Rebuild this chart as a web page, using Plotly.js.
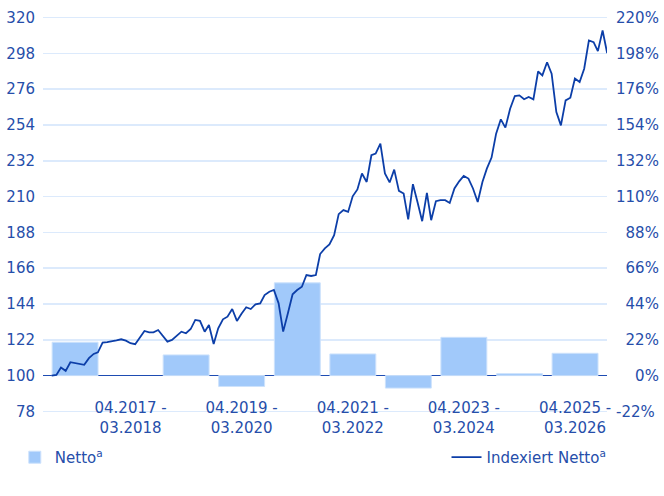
<!DOCTYPE html>
<html>
<head>
<meta charset="utf-8">
<script src="https://cdn.plot.ly/plotly-3.0.1.min.js"></script>
<style>
html,body{margin:0;padding:0;background:#fff}
#chart{width:664px;height:496px}
</style>
</head>
<body>
<div id="chart"></div>
<script>
// Fiscal years (April - March)
const fiscalYears = ['04.2016 - 03.2017','04.2017 - 03.2018','04.2018 - 03.2019','04.2019 - 03.2020','04.2020 - 03.2021',
                     '04.2021 - 03.2022','04.2022 - 03.2023','04.2023 - 03.2024','04.2024 - 03.2025','04.2025 - 03.2026'];
const fiscalStartYear = [2016,2017,2018,2019,2020,2021,2022,2023,2024,2025];
// Netto yearly performance in %
const nettoPct = [20.5, 0, 12.7, -6.7, 57.0, 13.3, -7.7, 23.5, 1.2, 13.7];
// Labelled fiscal years on the x axis
const labelledYears = [2017, 2019, 2021, 2023, 2025];

// Indexiert Netto, monthly values (month-end) starting April 2016
const indexStart = {year: 2016, month: 4};
const indexValues = [
  100.0, 100.4, 104.9, 102.9, 108.2, 107.7, 107.2, 106.6, 110.7, 113.3,
  114.3, 120.2, 120.5, 120.9, 121.6, 122.3, 121.5, 119.9, 119.3, 123.3,
  127.4, 126.6, 126.6, 128.0, 124.5, 120.9, 121.9, 124.5, 127.0, 126.0,
  128.6, 134.2, 133.6, 127.0, 131.1, 119.4, 129.1, 134.6, 136.2, 140.9,
  133.6, 138.0, 142.0, 140.9, 143.8, 144.4, 149.5, 151.5, 152.6, 144.4,
  127.0, 138.3, 150.0, 152.6, 154.6, 161.8, 161.2, 161.8, 174.7, 178.2,
  180.6, 186.3, 199.2, 201.7, 200.6, 210.2, 214.4, 224.2, 219.0, 235.4,
  236.4, 242.6, 224.2, 218.7, 226.6, 213.5, 211.9, 196.0, 217.6, 206.7,
  194.9, 212.3, 195.5, 207.2, 207.8, 207.8, 206.1, 215.0, 219.4, 222.7,
  221.1, 215.0, 206.7, 219.0, 227.2, 234.0, 248.7, 257.5, 252.4, 264.0,
  271.8, 272.2, 269.8, 271.2, 269.8, 286.9, 284.5, 292.6, 285.5, 262.0,
  253.8, 269.1, 270.8, 282.5, 280.4, 288.6, 306.0, 304.9, 299.4, 312.1,
  298.2
];

// Axis ticks
const leftTicks  = [78,100,122,144,166,188,210,232,254,276,298,320];
const rightTicks = [-22,0,22,44,66,88,110,132,154,176,198,220];

const iso = d => d.toISOString().slice(0,10);
const monthEnd = i => iso(new Date(Date.UTC(indexStart.year, indexStart.month - 1 + i + 1, 0)));
const fyMid = y => iso(new Date(Date.UTC(y, 9, 1)));
const pad = s => '\u2007'.repeat(Math.max(0, 4 - s.length)) + s;
const edge = 1.0; // keeps the outermost grid lines inside the plot area

const textColor = 'rgb(38,78,170)';
const font = {family: '"DejaVu Sans", "Noto Sans", sans-serif', size: 15, color: textColor};

const bars = {
  type: 'bar',
  name: 'Netto<sup>a</sup>',
  x: fiscalStartYear.map(fyMid),
  y: nettoPct,
  width: 302 * 86400000,
  yaxis: 'y',
  marker: {
    color: 'rgb(161,201,250)',
    line: {color: 'rgb(205,226,252)', width: nettoPct.map(v => v === 0 ? 0 : 1)}
  },
  legend: 'legend',
  hoverinfo: 'skip'
};

const line = {
  type: 'scatter',
  mode: 'lines',
  name: 'Indexiert Netto<sup>a</sup>',
  x: indexValues.map((v, i) => monthEnd(i)),
  y: indexValues,
  yaxis: 'y2',
  line: {color: 'rgb(12,62,168)', width: 1.8},
  legend: 'legend2',
  hoverinfo: 'skip'
};

const layout = {
  width: 664, height: 496,
  margin: {l: 43, r: 57, t: 15.7, b: 82.6},
  paper_bgcolor: '#fff', plot_bgcolor: '#fff',
  font: font,
  showlegend: true,
  bargap: 0,
  xaxis: {
    type: 'date',
    range: ['2016-03-04', '2026-04-29'],
    tickvals: labelledYears.map(fyMid),
    ticktext: labelledYears.map(y => fiscalYears[fiscalStartYear.indexOf(y)].replace(' - ', ' -<br>')),
    showgrid: false, zeroline: false, showline: false, ticks: '',
    ticklabelstandoff: -16,
    tickfont: font, fixedrange: true
  },
  yaxis: {
    side: 'right',
    range: [rightTicks[0] - edge, rightTicks[rightTicks.length - 1] + edge],
    tickvals: rightTicks,
    ticktext: rightTicks.map(v => pad(v + '%')),
    showgrid: true, gridcolor: 'rgb(220,234,252)', gridwidth: 1.5,
    zeroline: true, zerolinecolor: 'rgb(30,76,178)', zerolinewidth: 1.6,
    showline: false, ticks: '', ticklabelstandoff: 8,
    tickfont: font, fixedrange: true
  },
  yaxis2: {
    overlaying: 'y', side: 'left',
    range: [leftTicks[0] - edge, leftTicks[leftTicks.length - 1] + edge],
    tickvals: leftTicks,
    showgrid: false, zeroline: false, showline: false, ticks: '',
    ticklabelstandoff: 7,
    tickfont: font, fixedrange: true
  },
  legend: {
    orientation: 'h', x: -0.05, xanchor: 'left', y: -0.112, yanchor: 'middle',
    font: font, bgcolor: 'rgba(0,0,0,0)'
  },
  legend2: {
    orientation: 'h', x: 1.008, xanchor: 'right', y: -0.112, yanchor: 'middle',
    font: font, bgcolor: 'rgba(0,0,0,0)'
  }
};

Plotly.newPlot('chart', [bars, line], layout, {displayModeBar: false, staticPlot: true});
</script>
</body>
</html>
